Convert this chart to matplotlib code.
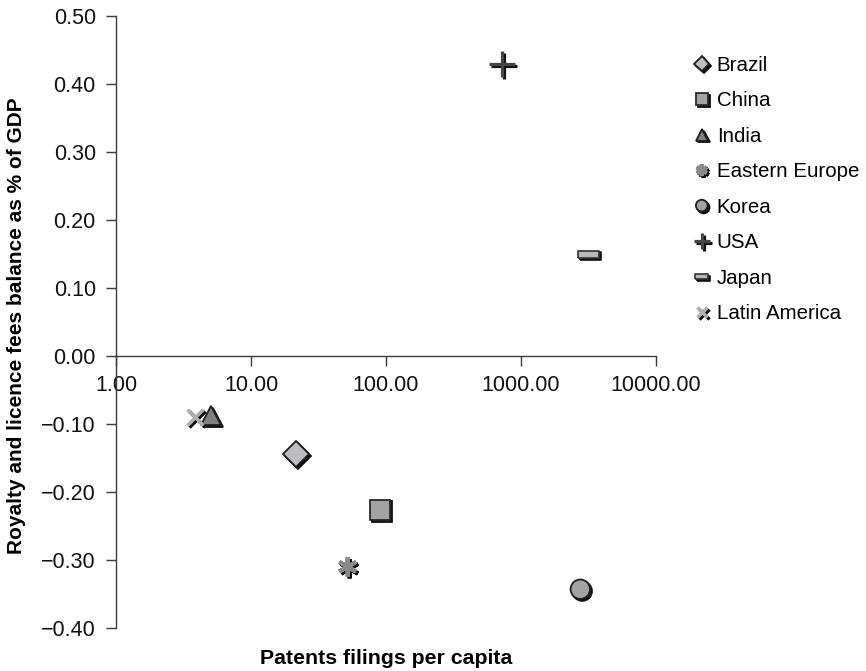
import matplotlib
matplotlib.use("Agg")
import matplotlib.pyplot as plt
import matplotlib.patheffects as pe
from matplotlib.ticker import FixedLocator, FuncFormatter, NullLocator

countries = ['Brazil', 'China', 'India', 'Eastern Europe', 'Korea', 'USA', 'Japan', 'Latin America']
patents = [21.5, 90, 5.05, 52, 2750, 725, 3150, 3.85]
royalty = [-0.144, -0.226, -0.088, -0.310, -0.343, 0.429, 0.149, -0.090]

x_ticks = [1, 10, 100, 1000, 10000]
y_ticks = [-0.4, -0.3, -0.2, -0.1, 0.0, 0.1, 0.2, 0.3, 0.4, 0.5]

plt.rcParams['font.family'] = ['Liberation Sans', 'DejaVu Sans']

W, H = 866, 671
fig = plt.figure(figsize=(W / 100, H / 100), dpi=100)
left, right, top, bottom = 116, 656, 15.7, 628
ax = fig.add_axes([left / W, (H - bottom) / H, (right - left) / W, (bottom - top) / H])

rect = [(-1, -0.38), (1, -0.38), (1, 0.38), (-1, 0.38), (-1, -0.38)]
styles = {
    'Brazil': dict(marker='D', ms=13, mfc='#bdbdc1', mec='#1e1e1e', mew=1.3),
    'China': dict(marker='s', ms=14.5, mfc='#a3a3a7', mec='#2a2a2a', mew=1.3),
    'India': dict(marker='^', ms=14, mfc='#808080', mec='#1e1e1e', mew=1.3),
    'Eastern Europe': dict(marker=(6, 2, 0), ms=14, mfc='#8a8a8a', mec='#8a8a8a', mew=3),
    'Korea': dict(marker='o', ms=14, mfc='#a3a3a7', mec='#1e1e1e', mew=1.3),
    'USA': dict(marker='+', ms=19, mfc='#444444', mec='#444444', mew=2.3),
    'Japan': dict(marker=rect, ms=15, mfc='#b8b8bc', mec='#333333', mew=1.2),
    'Latin America': dict(marker='x', ms=12, mfc='#b0b0b0', mec='#b0b0b0', mew=2.5),
}

effects = [pe.SimpleLineShadow(offset=(1.4, -1.4), shadow_color='#111111', alpha=1.0),
           pe.SimplePatchShadow(offset=(1.4, -1.4), shadow_rgbFace='#111111', alpha=1.0),
           pe.Normal()]

for name, xv, yv in zip(countries, patents, royalty):
    st = styles[name]
    ax.plot([xv], [yv], linestyle='none', label=name, path_effects=effects, **st)

ax.set_xscale('log')
ax.set_xlim(1, 10000)
ax.set_ylim(-0.4, 0.5)

ax.xaxis.set_major_locator(FixedLocator(x_ticks))
ax.xaxis.set_minor_locator(NullLocator())
ax.xaxis.set_major_formatter(FuncFormatter(lambda v, p: f"{v:.2f}"))
ax.yaxis.set_major_locator(FixedLocator(y_ticks))
ax.yaxis.set_major_formatter(FuncFormatter(
    lambda v, p: (f"{v:.2f}" if abs(v) > 1e-9 else "0.00").replace('-', '\u2212')))

for s in ['top', 'right']:
    ax.spines[s].set_visible(False)
ax.spines['bottom'].set_position(('data', 0))
for s in ['left', 'bottom']:
    ax.spines[s].set_color('#3a3a3a')
    ax.spines[s].set_linewidth(1.0)

ax.tick_params(axis='x', direction='out', length=7.5, width=1.0, color='#3a3a3a',
               labelsize=15.5, pad=6, labelcolor='#111111')
ax.tick_params(axis='y', direction='out', length=7.5, width=1.0, color='#3a3a3a',
               labelsize=15.5, pad=7, labelcolor='#111111')
for lab in ax.get_xticklabels() + ax.get_yticklabels():
    lab.set_clip_on(False)

ax.set_xlabel('Patents filings per capita', fontsize=15.3, fontweight='bold', va='center')
ax.xaxis.set_label_coords(0.5, (bottom - 659) / (bottom - top))
ax.set_ylabel('Royalty and licence fees balance as % of GDP', fontsize=15, fontweight='bold',
              va='center')
ax.yaxis.set_label_coords((17 - left) / (right - left), (bottom - 326) / (bottom - top))

leg = ax.legend(loc='upper left', bbox_to_anchor=(693 / W, (H - 56) / H),
                bbox_transform=fig.transFigure, frameon=False, fontsize=14.8,
                markerscale=0.6, handlelength=0.85, handletextpad=0.3,
                labelspacing=0.8, borderpad=0, borderaxespad=0, numpoints=1)

fig.savefig('out.png', dpi=100)
